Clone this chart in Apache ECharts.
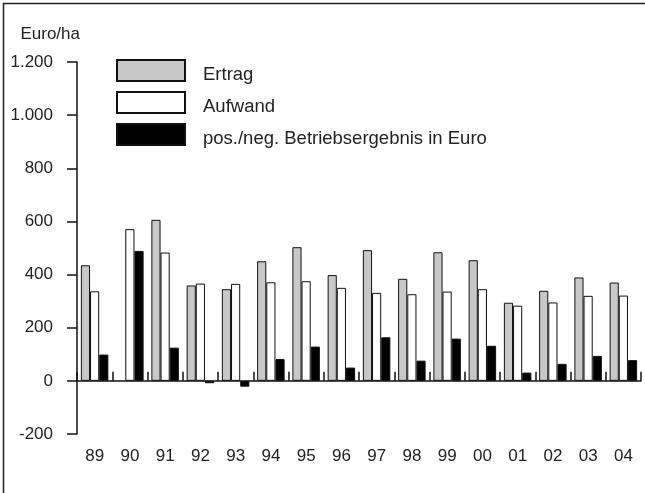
<!DOCTYPE html>
<html>
<head>
<meta charset="utf-8">
<script src="https://cdn.jsdelivr.net/npm/echarts@6/dist/echarts.min.js"></script>
<style>
  html, body { margin: 0; padding: 0; background: #fff; }
  #view { width: 645px; height: 493px; }
</style>
</head>
<body>
<div id="view"></div>
<script>
// Jahre (Wirtschaftsjahre)
var years = ["89", "90", "91", "92", "93", "94", "95", "96", "97", "98", "99", "00", "01", "02", "03", "04"];
// Euro/ha
var ertrag = [435, null, 606, 359, 345, 450, 503, 398, 492, 384, 484, 454, 294, 339, 389, 370];
var aufwand = [337, 571, 483, 366, 365, 371, 375, 350, 331, 326, 336, 345, 283, 295, 320, 321];
var ergebnis = [99, 489, 125, -9, -22, 82, 129, 50, 164, 76, 159, 132, 31, 64, 94, 78];
var yTicks = { min: -200, max: 1200, step: 200 };

var font = "Liberation Sans";
var ink = "#222";

var myChart = echarts.init(document.getElementById("view"), null, { renderer: "canvas" });

function barSeries(name, data, color) {
  return {
    name: name,
    type: "bar",
    data: data,
    barGap: "0%",
    barCategoryGap: "22%",
    itemStyle: { color: color, borderColor: "#111", borderWidth: 1 },
  };
}

var option = {
  backgroundColor: "#fff",
  animation: false,
  textStyle: { fontFamily: font, color: ink },
  graphic: [
    {
      type: "rect",
      silent: true,
      shape: { x: 3.5, y: 3.5, width: 700, height: 600 },
      style: { fill: "none", stroke: "#222", lineWidth: 1.5 },
    },
  ],
  legend: {
    orient: "vertical",
    left: 111,
    top: 54,
    itemWidth: 68,
    itemHeight: 30,
    itemGap: 0,
    // box in the upper part of the item so the text sits a little lower
    icon: "path://M0,0h68v21h-68z M0,30",
    textStyle: { fontFamily: font, fontSize: 18.5, color: ink, padding: [0, 0, 0, 13] },
    data: ["Ertrag", "Aufwand", "pos./neg. Betriebsergebnis in Euro"],
  },
  grid: { left: 77, right: 4, top: 62, bottom: 59, outerBoundsMode: "none" },
  xAxis: [
    {
      // labels along the bottom
      type: "category",
      data: years,
      position: "bottom",
      axisLine: { show: false, onZero: false },
      axisTick: { show: false },
      axisLabel: { margin: 14, fontSize: 17, color: ink, fontFamily: font },
      splitLine: { show: false },
    },
    {
      // zero line with ticks
      type: "category",
      data: years,
      position: "bottom",
      axisLine: { show: true, onZero: true, lineStyle: { color: "#111", width: 1.5 } },
      axisTick: { show: true, inside: true, length: 9, lineStyle: { color: "#111", width: 1.5 } },
      axisLabel: { show: false },
      splitLine: { show: false },
    },
  ],
  yAxis: {
    type: "value",
    min: yTicks.min,
    max: yTicks.max,
    interval: yTicks.step,
    name: "Euro/ha",
    nameLocation: "end",
    nameGap: 19,
    nameTextStyle: { fontSize: 17, color: ink, fontFamily: font, align: "right", padding: [0, -3, 0, 0] },
    axisLine: { show: true, lineStyle: { color: "#111", width: 1.5 } },
    axisTick: { show: true, length: 10, lineStyle: { color: "#111", width: 1.5 } },
    axisLabel: {
      margin: 24,
      fontSize: 17,
      color: ink,
      fontFamily: font,
      formatter: function (v) {
        return String(v).replace(/\B(?=(\d{3})+(?!\d))/g, ".");
      },
    },
    splitLine: { show: false },
  },
  series: [
    barSeries("Ertrag", ertrag, "#c8c8c8"),
    barSeries("Aufwand", aufwand, "#ffffff"),
    barSeries("pos./neg. Betriebsergebnis in Euro", ergebnis, "#000000"),
  ],
};
myChart.setOption(option);
</script>
</body>
</html>
